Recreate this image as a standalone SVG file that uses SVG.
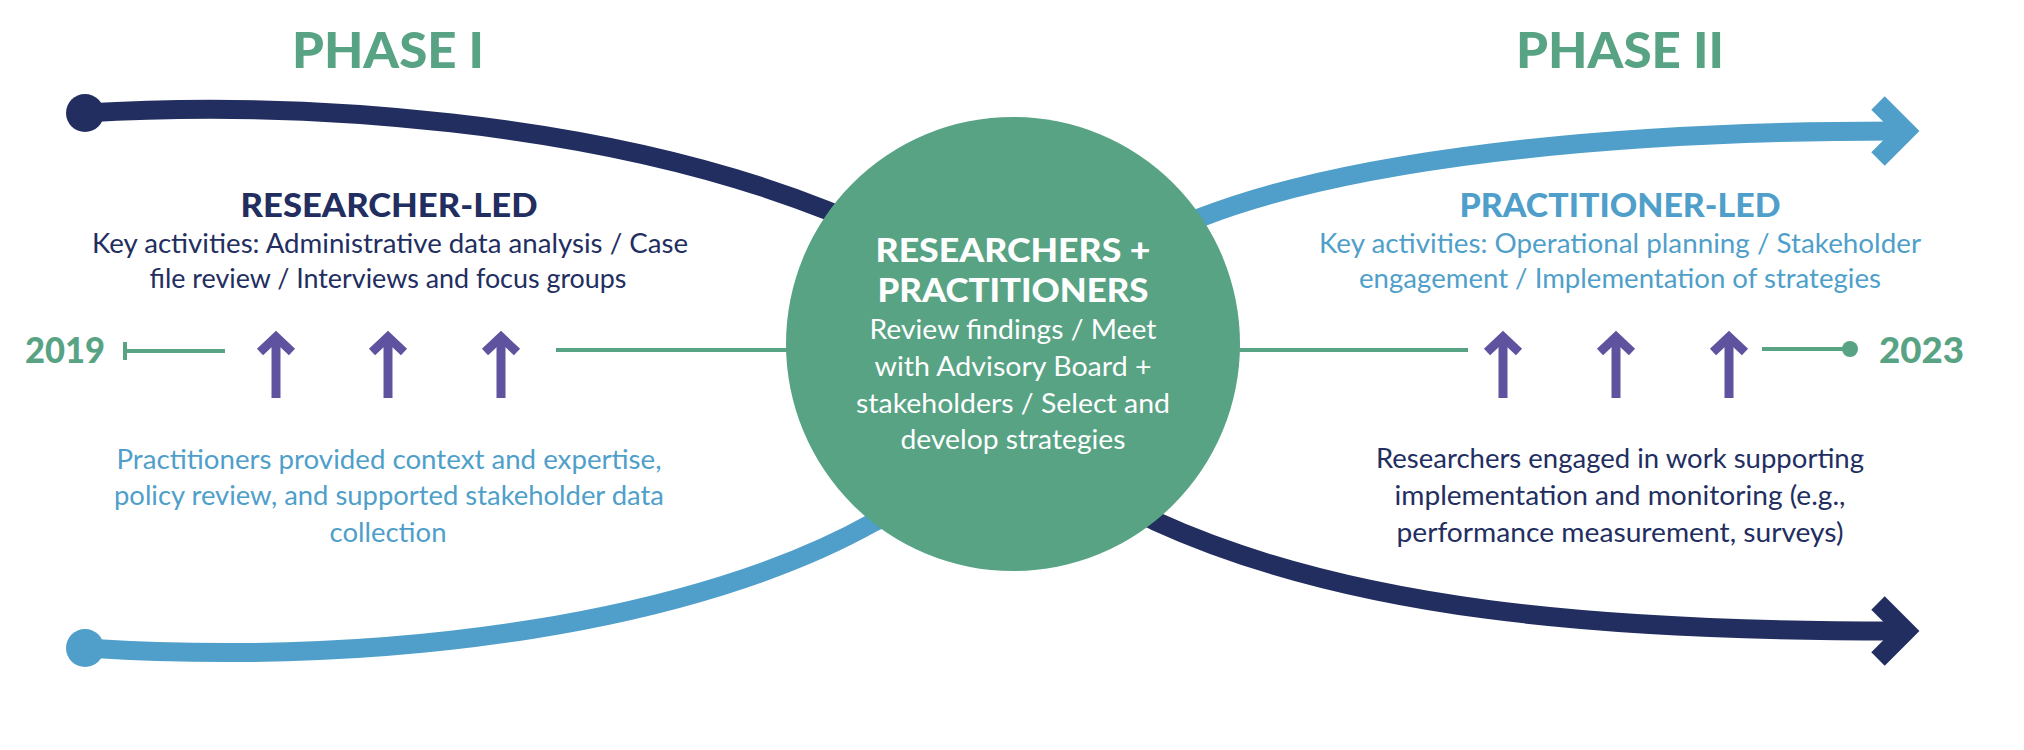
<svg xmlns="http://www.w3.org/2000/svg" width="2024" height="750" viewBox="0 0 2024 750">
<style>
.bg{fill:#ffffff}
.navy{stroke:#222e5f;fill:none}
.blue{stroke:#4f9fca;fill:none}
.curve{stroke-width:19;stroke-linejoin:round}
.chev{stroke-width:19;stroke-linejoin:miter;fill:none}
.tl{stroke:#57a384;stroke-width:4;fill:none}
.up{stroke:#5f53a0;stroke-width:9;fill:none;stroke-linejoin:miter}
.phase{font-family:Lato,"Liberation Sans",sans-serif;font-weight:900;font-size:50px;fill:#57a384;text-anchor:middle}
.head{font-family:Lato,"Liberation Sans",sans-serif;font-weight:900;font-size:33px;text-anchor:middle}
.body{font-family:Lato,"Liberation Sans",sans-serif;font-weight:400;font-size:27px;text-anchor:middle}
.year{font-family:Lato,"Liberation Sans",sans-serif;font-weight:900;font-size:36px;fill:#57a384}
.cn{fill:#222e5f}
.cb{fill:#4f9fca}
.cw{fill:#ffffff}
</style>
<rect class="bg" x="0" y="0" width="2024" height="750"/>

<g id="connectors">
  <path class="navy curve" d="M85,113 C300,100 600,120 826,210 L880,232 L1100,494 L1155,521 C1350,610 1600,631 1895,631"/>
  <circle cx="85" cy="113" r="19" fill="#222e5f"/>
  <polyline class="navy chev" points="1878,603 1906,631 1878,659"/>
  <path class="blue curve" d="M85,648 C400,668 700,620 874,522 L930,497 L1130,244 L1202,217 C1350,160 1600,131 1895,131"/>
  <circle cx="85" cy="648" r="19" fill="#4f9fca"/>
  <polyline class="blue chev" points="1878,103 1906,131 1878,159"/>
</g>

<g id="timeline">
  <line class="tl" x1="125" y1="342" x2="125" y2="360"/>
  <line class="tl" x1="125" y1="351" x2="225" y2="351"/>
  <line class="tl" x1="556" y1="350" x2="820" y2="350"/>
  <line class="tl" x1="1210" y1="350" x2="1468" y2="350"/>
  <line class="tl" x1="1762" y1="349" x2="1850" y2="349"/>
  <circle cx="1850" cy="349" r="8" fill="#57a384"/>
  <text class="year" x="25" y="363" textLength="80" lengthAdjust="spacingAndGlyphs">2019</text>
  <text class="year" x="1879" y="363" textLength="85" lengthAdjust="spacingAndGlyphs">2023</text>
</g>

<g id="up-arrows">
  <g class="up">
    <polyline points="260,352 276,337 292,352"/><line x1="276" y1="337" x2="276" y2="398"/>
    <polyline points="372,352 388,337 404,352"/><line x1="388" y1="337" x2="388" y2="398"/>
    <polyline points="485,352 501,337 517,352"/><line x1="501" y1="337" x2="501" y2="398"/>
    <polyline points="1487,352 1503,337 1519,352"/><line x1="1503" y1="337" x2="1503" y2="398"/>
    <polyline points="1600,352 1616,337 1632,352"/><line x1="1616" y1="337" x2="1616" y2="398"/>
    <polyline points="1713,352 1729,337 1745,352"/><line x1="1729" y1="337" x2="1729" y2="398"/>
  </g>
</g>

<g id="phase-1">
  <text class="phase" x="388" y="68" textLength="192" lengthAdjust="spacingAndGlyphs">PHASE I</text>
</g>
<g id="phase-2">
  <text class="phase" x="1620" y="68" textLength="208" lengthAdjust="spacingAndGlyphs">PHASE II</text>
</g>

<g id="researcher-led">
  <text class="head cn" x="389" y="217" textLength="297" lengthAdjust="spacingAndGlyphs">RESEARCHER-LED</text>
  <text class="body cn" x="390" y="253" textLength="596" lengthAdjust="spacingAndGlyphs">Key activities: Administrative data analysis / Case</text>
  <text class="body cn" x="388" y="288" textLength="477" lengthAdjust="spacingAndGlyphs">file review / Interviews and focus groups</text>
</g>

<g id="practitioners-support">
  <text class="body cb" x="389" y="469" textLength="545" lengthAdjust="spacingAndGlyphs">Practitioners provided context and expertise,</text>
  <text class="body cb" x="389" y="505" textLength="550" lengthAdjust="spacingAndGlyphs">policy review, and supported stakeholder data</text>
  <text class="body cb" x="388" y="542" textLength="117" lengthAdjust="spacingAndGlyphs">collection</text>
</g>

<g id="center">
  <circle cx="1013" cy="344" r="227" fill="#57a384"/>
  <text class="head cw" x="1013" y="262" textLength="275" lengthAdjust="spacingAndGlyphs">RESEARCHERS +</text>
  <text class="head cw" x="1013" y="302" textLength="271" lengthAdjust="spacingAndGlyphs">PRACTITIONERS</text>
  <text class="body cw" x="1013" y="339" textLength="287" lengthAdjust="spacingAndGlyphs">Review findings / Meet</text>
  <text class="body cw" x="1013" y="376" textLength="277" lengthAdjust="spacingAndGlyphs">with Advisory Board +</text>
  <text class="body cw" x="1013" y="413" textLength="314" lengthAdjust="spacingAndGlyphs">stakeholders / Select and</text>
  <text class="body cw" x="1013" y="449" textLength="225" lengthAdjust="spacingAndGlyphs">develop strategies</text>
</g>

<g id="practitioner-led">
  <text class="head cb" x="1620" y="217" textLength="321" lengthAdjust="spacingAndGlyphs">PRACTITIONER-LED</text>
  <text class="body cb" x="1620" y="253" textLength="602" lengthAdjust="spacingAndGlyphs">Key activities: Operational planning / Stakeholder</text>
  <text class="body cb" x="1620" y="288" textLength="522" lengthAdjust="spacingAndGlyphs">engagement / Implementation of strategies</text>
</g>

<g id="researchers-support">
  <text class="body cn" x="1620" y="468" textLength="488" lengthAdjust="spacingAndGlyphs">Researchers engaged in work supporting</text>
  <text class="body cn" x="1620" y="505" textLength="451" lengthAdjust="spacingAndGlyphs">implementation and monitoring (e.g.,</text>
  <text class="body cn" x="1620" y="542" textLength="447" lengthAdjust="spacingAndGlyphs">performance measurement, surveys)</text>
</g>
</svg>
